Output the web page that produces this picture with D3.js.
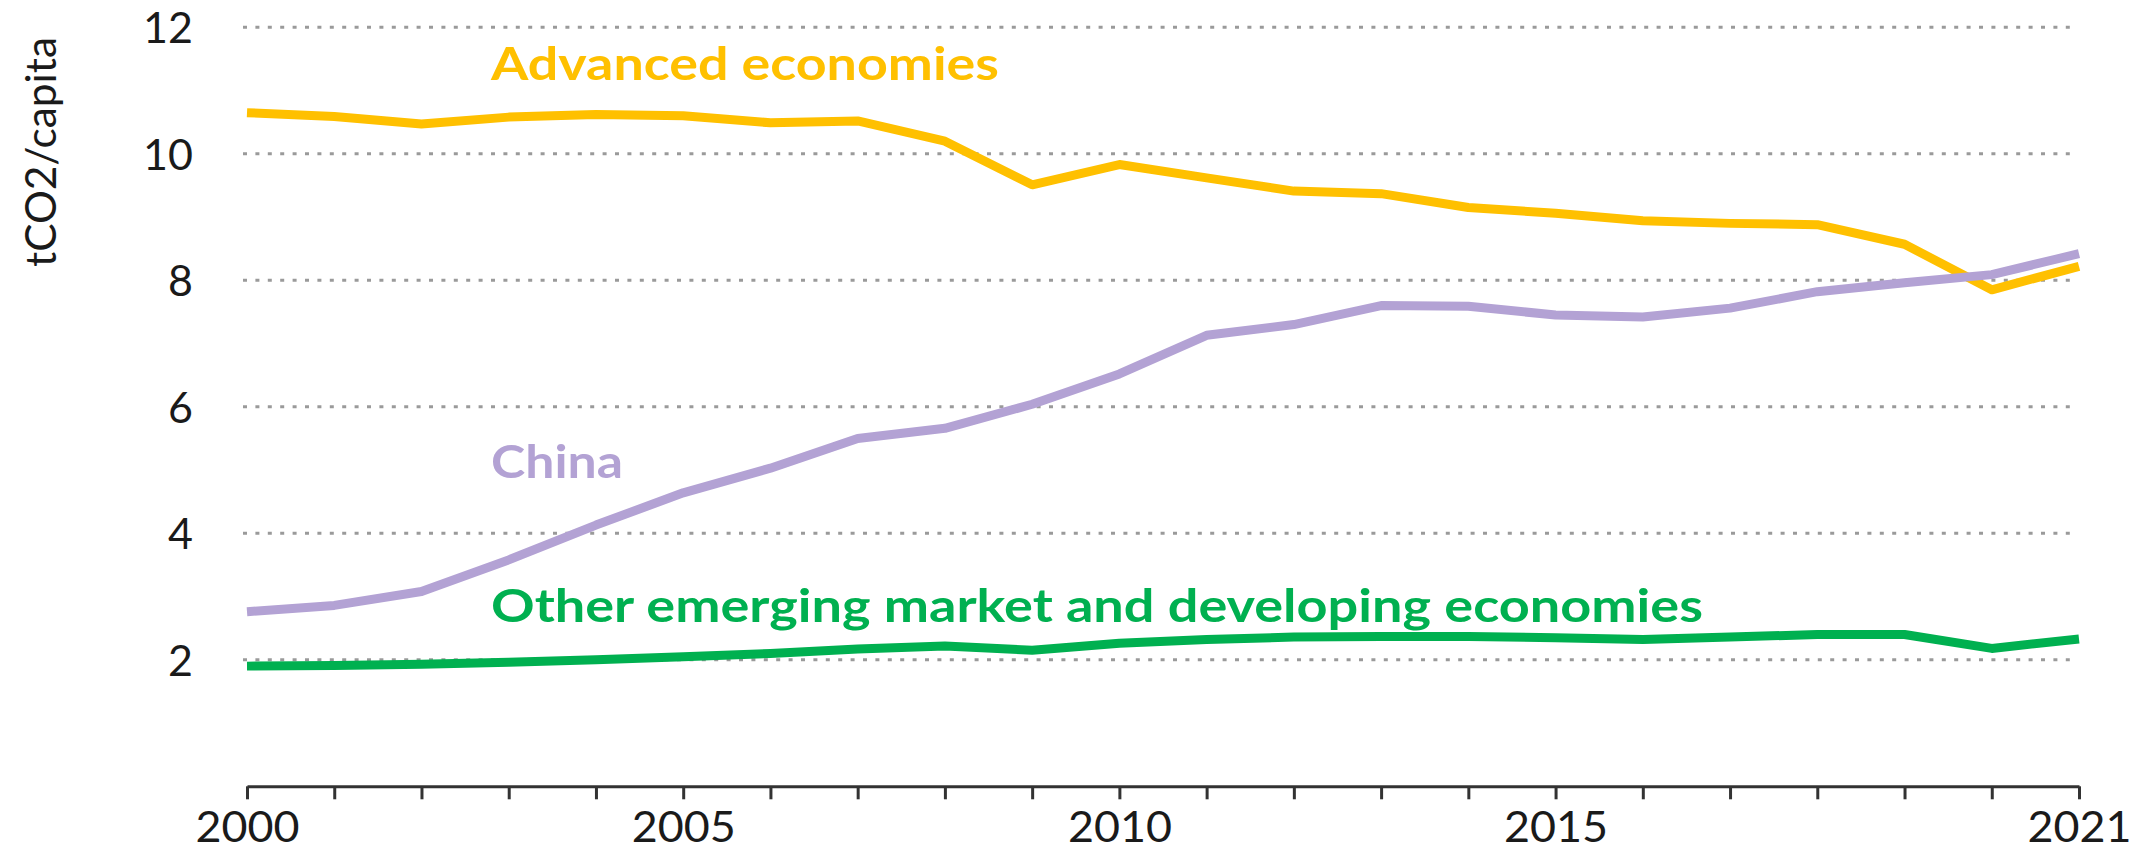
<!DOCTYPE html>
<html>
<head>
<meta charset="utf-8">
<script src="https://cdn.jsdelivr.net/npm/d3@7"></script>
<style>
  html, body { margin: 0; padding: 0; background: #ffffff; }
  svg { display: block; }
  text { font-family: Lato, "Open Sans", "Liberation Sans", sans-serif; }
</style>
</head>
<body>
<svg id="chart" width="2152" height="852"></svg>
<script>
// ---- Data ----
const years = [2000, 2001, 2002, 2003, 2004, 2005, 2006, 2007, 2008, 2009, 2010,
               2011, 2012, 2013, 2014, 2015, 2016, 2017, 2018, 2019, 2020, 2021];
const advancedEconomies = [10.65, 10.59, 10.47, 10.58, 10.62, 10.60, 10.49, 10.52, 10.20, 9.51, 9.83,
                           9.62, 9.41, 9.37, 9.15, 9.06, 8.94, 8.90, 8.88, 8.57, 7.85, 8.22];
const china = [2.76, 2.86, 3.08, 3.58, 4.13, 4.64, 5.03, 5.50, 5.66, 6.04, 6.52,
               7.13, 7.30, 7.60, 7.59, 7.45, 7.42, 7.56, 7.82, 7.96, 8.09, 8.42];
const otherEmde = [1.90, 1.91, 1.93, 1.96, 2.00, 2.05, 2.10, 2.17, 2.22, 2.15, 2.26,
                   2.32, 2.36, 2.37, 2.37, 2.35, 2.32, 2.36, 2.40, 2.40, 2.18, 2.33];
const yTicks = [2, 4, 6, 8, 10, 12];
const xLabelYears = [2000, 2005, 2010, 2015, 2021];
const yAxisTitle = "tCO2/capita";
const seriesNames = ["Advanced economies", "China", "Other emerging market and developing economies"];

// ---- Layout ----
const svg = d3.select("#chart");
const x = d3.scaleLinear().domain([2000, 2021]).range([247, 2079]);
const y = d3.scaleLinear().domain([0, 12]).range([786.3, 27.3]);

const series = [
  { name: seriesNames[0], values: advancedEconomies, color: "#FFC000", label: { y: 80, len: 508 } },
  { name: seriesNames[1], values: china, color: "#B3A2D4", label: { y: 478, len: 132 } },
  { name: seriesNames[2], values: otherEmde, color: "#00B050", label: { y: 622, len: 1212 } }
];

// Gridlines
svg.append("g").selectAll("line")
  .data(yTicks)
  .join("line")
  .attr("x1", x(2000) - 4)
  .attr("x2", x(2021) - 3)
  .attr("y1", d => y(d))
  .attr("y2", d => y(d))
  .attr("stroke", "#9a9a9a")
  .attr("stroke-width", 3)
  .attr("stroke-dasharray", "4 8.4");

// Y axis (labels only)
const yAxis = svg.append("g")
  .attr("transform", `translate(${x(2000)},0)`)
  .call(d3.axisLeft(y).tickValues(yTicks).tickSize(0).tickPadding(54).tickFormat(d3.format("d")));
yAxis.select(".domain").remove();
yAxis.selectAll("text")
  .attr("font-size", 43)
  .attr("fill", "#1a1a1a")
  .attr("font-family", "Lato, 'Open Sans', sans-serif")
  .attr("dy", "0.36em");

// X axis
const xAxis = svg.append("g")
  .attr("transform", `translate(0,${y(0)})`)
  .call(d3.axisBottom(x)
    .tickValues(years)
    .tickSizeInner(13)
    .tickSizeOuter(0)
    .tickPadding(14)
    .tickFormat(d => xLabelYears.includes(d) ? String(d) : ""));
xAxis.select(".domain")
  .attr("stroke", "#333")
  .attr("stroke-width", 3);
xAxis.selectAll(".tick line")
  .attr("stroke", "#333")
  .attr("stroke-width", 3);
xAxis.selectAll("text")
  .attr("font-size", 43)
  .attr("fill", "#1a1a1a")
  .attr("font-family", "Lato, 'Open Sans', sans-serif")
  .attr("y", 55.5)
  .attr("dy", null)
  .attr("textLength", 104)
  .attr("lengthAdjust", "spacingAndGlyphs");

// Y title
svg.append("text")
  .attr("transform", `translate(56,152) rotate(-90)`)
  .attr("text-anchor", "middle")
  .attr("font-size", 43)
  .attr("fill", "#1a1a1a")
  .attr("textLength", 230)
  .attr("lengthAdjust", "spacingAndGlyphs")
  .text(yAxisTitle);

// Lines
const line = d3.line()
  .x((d, i) => x(years[i]))
  .y(d => y(d));

svg.append("g").selectAll("path")
  .data(series)
  .join("path")
  .attr("d", d => line(d.values))
  .attr("fill", "none")
  .attr("stroke", d => d.color)
  .attr("stroke-width", 9)
  .attr("stroke-linejoin", "round");

// Series labels
svg.append("g").selectAll("text")
  .data(series)
  .join("text")
  .attr("x", 491)
  .attr("y", d => d.label.y)
  .attr("font-size", 45)
  .attr("font-weight", 700)
  .attr("fill", d => d.color)
  .attr("textLength", d => d.label.len)
  .attr("lengthAdjust", "spacingAndGlyphs")
  .text(d => d.name);
</script>
</body>
</html>
